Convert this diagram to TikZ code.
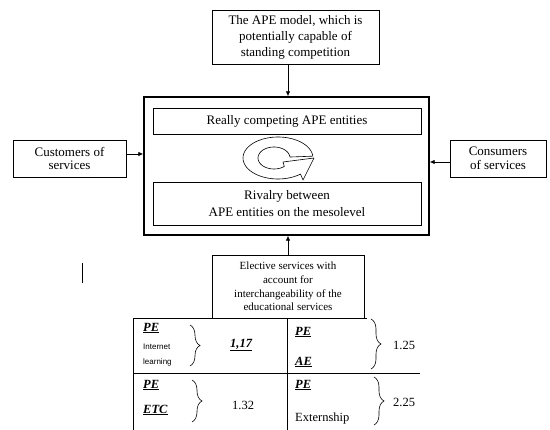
\documentclass[tikz,border=0pt]{standalone}
\usepackage{fontspec}
\setmainfont{Liberation Serif}
\newfontfamily\smallsans{Liberation Sans}
\usetikzlibrary{arrows.meta,decorations.pathreplacing}
\tikzset{
  box/.style={draw, line width=0.8pt, align=center, inner sep=0pt,
    font=\fontsize{13}{16}\selectfont},
  arr/.style={-{Latex[length=5pt,width=4.5pt]}, line width=0.8pt},
  cell/.style={anchor=west, inner sep=0pt, font=\fontsize{12.5}{14}\selectfont},
  brc/.style={decorate, decoration={brace, amplitude=10pt}, line width=0.6pt}
}
\newcommand{\ulbi}[1]{\underline{\textbf{\textit{#1}}}}

\begin{document}
\begin{tikzpicture}[x=1pt, y=-1pt]
    \useasboundingbox (0,0) rectangle (550,430);

    % Model on top
    \node[box, minimum width=167pt, minimum height=54pt] (model) at (295.5,37)
        {The APE model, which is\\potentially capable of\\standing competition};

    % Main box with its two parts
    \node[draw, line width=1.4pt, minimum width=285pt, minimum height=138pt] (main) at (286.5,166) {};
    \node[box, minimum width=268pt, minimum height=26pt] (really) at (287,121)
        {Really competing APE entities};
    \node[box, minimum width=268pt, minimum height=43pt, font=\fontsize{13}{17}\selectfont] (rival) at (287,203.5)
        {Rivalry between\\APE entities on the mesolevel};

    % Ring arrow
    \draw[line width=0.6pt, fill=white, line join=round]
        plot[domain=-5:-310, smooth, samples=50, variable=\t] ({278+35*cos(\t)},{158+21*sin(\t)})
        -- (303,180) -- (314,158) -- (283,162) -- (284.3,166.4)
        -- plot[domain=-310:-5, smooth, samples=50, variable=\t] ({274+16*cos(\t)},{158+11*sin(\t)})
        -- cycle;

    % Side boxes
    \node[box, minimum width=113pt, minimum height=37pt, font=\fontsize{13}{13.5}\selectfont] (cust) at (69.5,158.5)
        {Customers of\\services};
    \node[box, minimum width=96pt, minimum height=37pt, font=\fontsize{13}{13.5}\selectfont] (cons) at (498,158.5)
        {Consumers\\of services};

    % Elective services
    \node[box, minimum width=152pt, minimum height=63pt, font=\fontsize{11}{13.7}\selectfont] (elect) at (288,286.5)
        {Elective services with\\account for\\interchangeability of the\\educational services};

    % Arrows
    \draw[arr] (model.south -| elect) -- (main.north -| elect);
    \draw[arr] (elect.north) -- (main.south -| elect);
    \draw[arr] (cust.east |- 0,154) -- (main.west |- 0,154);
    \draw[arr] (cons.west |- 0,162) -- (main.east |- 0,162);

    % Table lines
    \draw[line width=0.8pt] (133,318) -- (367,318);
    \draw[line width=0.8pt] (133,318) -- (133,430);
    \draw[line width=0.8pt] (287,318) -- (287,430);
    \draw[line width=0.8pt] (133,373) -- (420,373);

    % Top left cell
    \node[cell] (pe1) at (143,328) {\ulbi{PE}};
    \node[cell, font=\smallsans\fontsize{8}{9}\selectfont] (inet) at (143,347) {Internet};
    \node[cell, font=\smallsans\fontsize{8}{9}\selectfont] (lrn) at (143,362) {learning};
    \draw[brc] (190,325) -- (190,366);
    \node[cell] (v1) at (230,345) {\ulbi{1,17}};

    % Top right cell
    \node[cell] (pe2) at (295,332) {\ulbi{PE}};
    \node[cell] (ae) at (295,362) {\ulbi{AE}};
    \draw[brc] (371,319) -- (371,369);
    \node[cell] (v2) at (393,345) {1.25};

    % Bottom left cell
    \node[cell] (pe3) at (143,385) {\ulbi{PE}};
    \node[cell] (etc) at (143,410) {\ulbi{ETC}};
    \draw[brc] (192,380) -- (192,422);
    \node[cell] (v3) at (232,405) {1.32};

    % Bottom right cell
    \node[cell] (pe4) at (295,385) {\ulbi{PE}};
    \node[cell] (ext) at (295,418) {Externship};
    \draw[brc] (374,377) -- (374,425);
    \node[cell] (v4) at (393,402) {2.25};

    % Cursor mark
    \draw[line width=1pt] (82,263) -- (82,283);
\end{tikzpicture}
\end{document}
